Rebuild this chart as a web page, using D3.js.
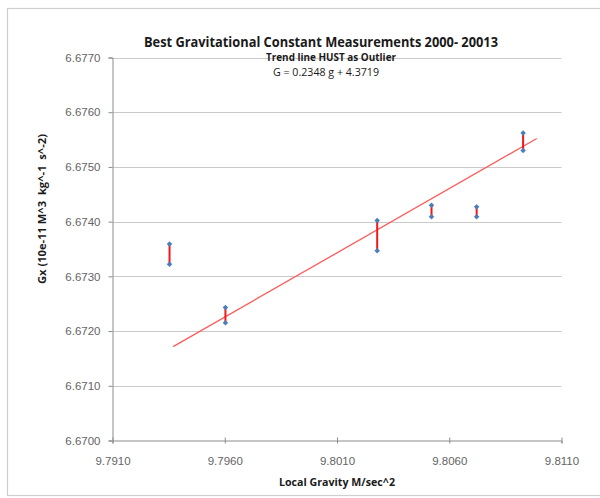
<!DOCTYPE html>
<html>
<head>
<meta charset="utf-8">
<script src="https://cdn.jsdelivr.net/npm/d3@7"></script>
<style>
  html, body { margin: 0; padding: 0; background: #fff; }
  svg { display: block; }
</style>
</head>
<body>
<svg id="chart" width="600" height="498"></svg>
<script>
// Local gravity (m/s^2) at each laboratory
const gravity = [9.79354, 9.79603, 9.80279, 9.80521, 9.80722, 9.80929];
// Upper and lower ends of each G measurement range (10^-11 m^3 kg^-1 s^-2)
const gHigh = [6.67359, 6.67243, 6.67402, 6.67430, 6.67427, 6.67562];
const gLow  = [6.67322, 6.67215, 6.67347, 6.67409, 6.67409, 6.67530];

// Fitted trend line (HUST excluded)
const trendSlope = 0.234826;
const trendIntercept = 4.3719;
const trendRange = [9.7937, 9.8099];

// Axis ticks
const xTicks = [9.791, 9.796, 9.801, 9.806, 9.811];
const yTicks = [6.670, 6.671, 6.672, 6.673, 6.674, 6.675, 6.676, 6.677];

const svg = d3.select("#chart");

// Outer chart frame
svg.append("rect")
  .attr("x", 7.5).attr("y", 8.5)
  .attr("width", 600).attr("height", 487)
  .attr("fill", "#fff")
  .attr("stroke", "#cfcfcf")
  .attr("stroke-width", 1.2);

const x = d3.scaleLinear().domain([9.791, 9.811]).range([112.5, 561.5]);
const y = d3.scaleLinear().domain([6.670, 6.677]).range([440.5, 57.5]);

const labelFont = "'Liberation Sans', Arial, sans-serif";

// Horizontal gridlines
svg.append("g")
  .selectAll("line")
  .data(yTicks.slice(1))
  .join("line")
  .attr("x1", x(9.791)).attr("x2", x(9.811))
  .attr("y1", d => Math.round(y(d)) + 0.5)
  .attr("y2", d => Math.round(y(d)) + 0.5)
  .attr("stroke", "#cacaca")
  .attr("stroke-width", 1.2);

// Y axis
const yAxis = d3.axisLeft(y)
  .tickValues(yTicks)
  .tickFormat(d3.format(".4f"))
  .tickSize(4)
  .tickPadding(8);
const gy = svg.append("g")
  .attr("transform", `translate(${x(9.791)},0)`)
  .call(yAxis);
gy.select(".domain").attr("stroke", "#8c8c8c");
gy.selectAll(".tick line").attr("stroke", "#8c8c8c");
gy.selectAll(".tick text")
  .attr("fill", "#646464")
  .style("font-family", labelFont)
  .style("font-size", "11.5px");

// X axis
const xAxis = d3.axisBottom(x)
  .tickValues(xTicks)
  .tickFormat(d3.format(".4f"))
  .tickSize(3)
  .tickPadding(13);
const gx = svg.append("g")
  .attr("transform", `translate(0,${y(6.670)})`)
  .call(xAxis);
gx.select(".domain").attr("stroke", "#8c8c8c");
gx.selectAll(".tick line").attr("stroke", "#8c8c8c").attr("y1", -3);
gx.selectAll(".tick text")
  .attr("fill", "#646464")
  .style("font-family", labelFont)
  .style("font-size", "11.5px");

// Trend line
svg.append("line")
  .attr("x1", x(trendRange[0]))
  .attr("y1", y(trendSlope * trendRange[0] + trendIntercept))
  .attr("x2", x(trendRange[1]))
  .attr("y2", y(trendSlope * trendRange[1] + trendIntercept))
  .attr("stroke", "#ff5a5a")
  .attr("stroke-width", 1.3);

// Measurement ranges
svg.append("g")
  .selectAll("line")
  .data(gravity)
  .join("line")
  .attr("x1", d => x(d)).attr("x2", d => x(d))
  .attr("y1", (d, i) => y(gLow[i]))
  .attr("y2", (d, i) => y(gHigh[i]))
  .attr("stroke", "#f01818")
  .attr("stroke-width", 2);

// Diamond end markers (square turned 45 degrees)
const diamond = d3.symbol().type(d3.symbolSquare).size(15);
const markers = gravity.flatMap((g, i) => [[g, gHigh[i]], [g, gLow[i]]]);
svg.append("g")
  .selectAll("path")
  .data(markers)
  .join("path")
  .attr("d", diamond)
  .attr("transform", d => `translate(${x(d[0])},${y(d[1])}) rotate(45)`)
  .attr("fill", "#4a7ebb");

// Titles
const titleFont = "'Open Sans', 'Liberation Sans', sans-serif";
svg.append("text")
  .attr("x", 321).attr("y", 47)
  .attr("text-anchor", "middle")
  .attr("textLength", 354)
  .attr("lengthAdjust", "spacingAndGlyphs")
  .style("font-family", titleFont)
  .style("font-weight", "bold")
  .style("font-size", "14px")
  .attr("fill", "#1a1a1a")
  .text("Best Gravitational Constant Measurements 2000- 20013");

svg.append("text")
  .attr("x", 331).attr("y", 61)
  .attr("text-anchor", "middle")
  .attr("textLength", 130)
  .attr("lengthAdjust", "spacingAndGlyphs")
  .style("font-family", titleFont)
  .style("font-weight", "bold")
  .style("font-size", "10px")
  .attr("fill", "#1a1a1a")
  .text("Trend line HUST as Outlier");

svg.append("text")
  .attr("x", 326).attr("y", 76)
  .attr("text-anchor", "middle")
  .attr("textLength", 106)
  .attr("lengthAdjust", "spacingAndGlyphs")
  .style("font-family", titleFont)
  .style("font-size", "10px")
  .attr("fill", "#1a1a1a")
  .text(`G = ${trendSlope.toFixed(4)} g + ${trendIntercept.toFixed(4)}`);

// Axis titles
svg.append("text")
  .attr("transform", "translate(46,209) rotate(-90)")
  .attr("text-anchor", "middle")
  .attr("textLength", 150)
  .attr("lengthAdjust", "spacingAndGlyphs")
  .style("font-family", titleFont)
  .style("font-weight", "bold")
  .style("font-size", "10px")
  .style("white-space", "pre")
  .attr("fill", "#1a1a1a")
  .text("Gx (10e-11 M^3  kg^-1  s^-2)");

svg.append("text")
  .attr("x", 337).attr("y", 486)
  .attr("text-anchor", "middle")
  .attr("textLength", 116)
  .attr("lengthAdjust", "spacingAndGlyphs")
  .style("font-family", titleFont)
  .style("font-weight", "bold")
  .style("font-size", "10px")
  .attr("fill", "#1a1a1a")
  .text("Local Gravity M/sec^2");
</script>
</body>
</html>
